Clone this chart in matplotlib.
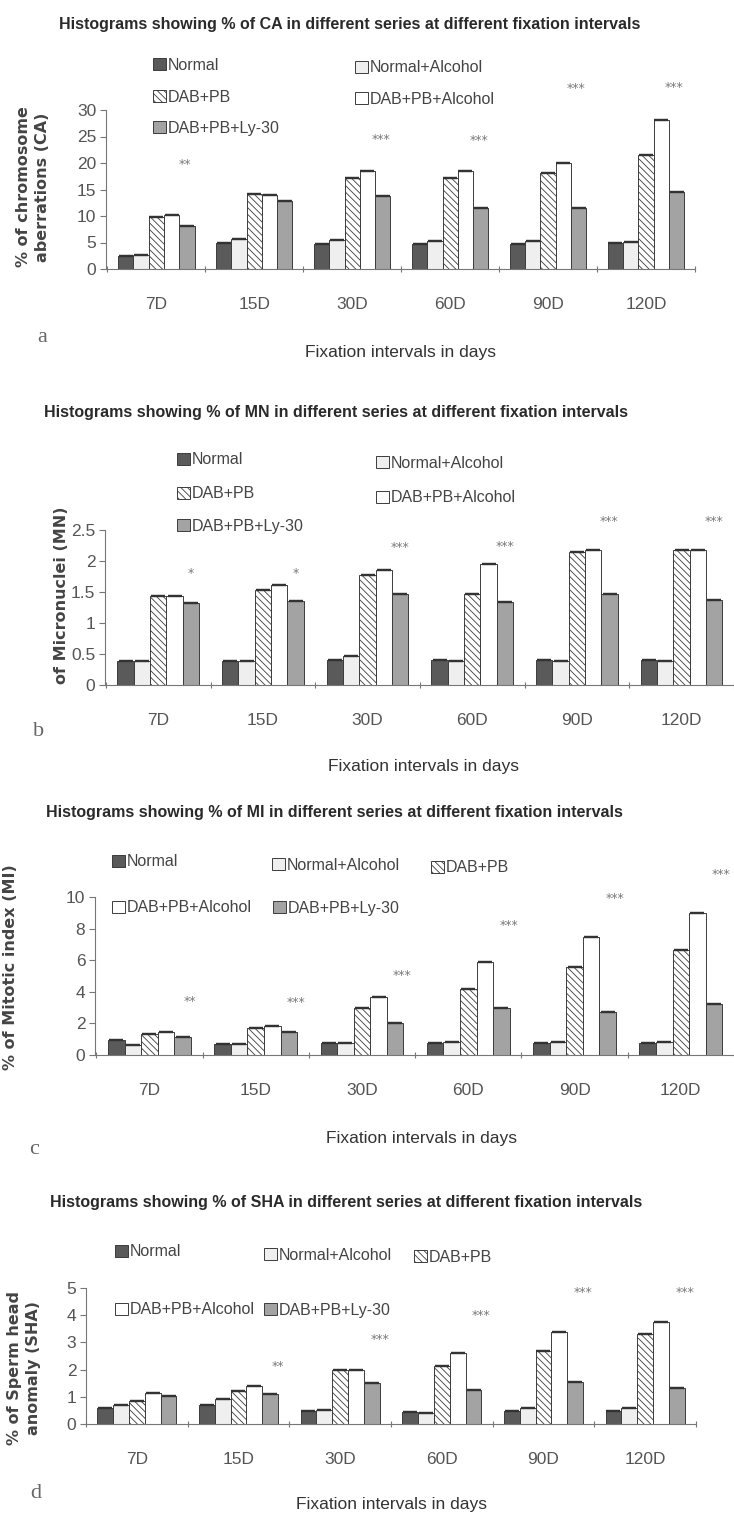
import matplotlib
matplotlib.use('Agg')
import matplotlib.pyplot as plt
import numpy as np
from matplotlib.ticker import FuncFormatter

W, H, DPI = 734, 1519, 100

# ---------------- data ----------------
categories = ['7D', '15D', '30D', '60D', '90D', '120D']
series = ['Normal', 'Normal+Alcohol', 'DAB+PB', 'DAB+PB+Alcohol', 'DAB+PB+Ly-30']

# (a) % chromosome aberrations
ca_normal      = [2.5, 4.9, 4.7, 4.7, 4.65, 4.9]
ca_normal_alc  = [2.7, 5.6, 5.4, 5.35, 5.2, 5.1]
ca_dab_pb      = [9.75, 14.1, 17.2, 17.1, 18.2, 21.5]
ca_dab_pb_alc  = [10.2, 13.9, 18.5, 18.5, 20.0, 28.2]
ca_dab_pb_ly   = [8.1, 12.8, 13.7, 11.6, 11.5, 14.5]
ca_sig         = ['**', '', '***', '***', '***', '***']
ca_sig_y       = [19.7, 0, 24.5, 24.3, 34.0, 34.2]

# (b) % micronuclei
mn_normal      = [0.38, 0.39, 0.41, 0.41, 0.41, 0.40]
mn_normal_alc  = [0.38, 0.38, 0.46, 0.38, 0.39, 0.39]
mn_dab_pb      = [1.43, 1.53, 1.77, 1.47, 2.15, 2.18]
mn_dab_pb_alc  = [1.43, 1.61, 1.85, 1.95, 2.17, 2.18]
mn_dab_pb_ly   = [1.32, 1.36, 1.47, 1.34, 1.46, 1.37]
mn_sig         = ['*', '*', '***', '***', '***', '***']
mn_sig_y       = [1.80, 1.80, 2.22, 2.23, 2.63, 2.63]

# (c) % mitotic index
mi_normal      = [0.97, 0.70, 0.75, 0.75, 0.75, 0.75]
mi_normal_alc  = [0.64, 0.68, 0.75, 0.80, 0.80, 0.80]
mi_dab_pb      = [1.31, 1.73, 3.0, 4.2, 5.6, 6.65]
mi_dab_pb_alc  = [1.45, 1.84, 3.7, 5.9, 7.45, 9.0]
mi_dab_pb_ly   = [1.15, 1.45, 2.0, 2.95, 2.75, 3.25]
mi_sig         = ['**', '***', '***', '***', '***', '***']
mi_sig_y       = [3.4, 3.35, 5.0, 8.2, 9.9, 11.4]

# (d) % sperm head anomaly
sha_normal     = [0.59, 0.70, 0.46, 0.45, 0.49, 0.49]
sha_normal_alc = [0.69, 0.91, 0.51, 0.39, 0.58, 0.58]
sha_dab_pb     = [0.84, 1.21, 1.98, 2.12, 2.70, 3.30]
sha_dab_pb_alc = [1.14, 1.40, 1.98, 2.61, 3.37, 3.76]
sha_dab_pb_ly  = [1.03, 1.09, 1.52, 1.25, 1.54, 1.33]
sha_sig        = ['', '**', '***', '***', '***', '***']
sha_sig_y      = [0, 2.12, 3.1, 4.0, 4.85, 4.85]

# ---------------- style ----------------
plt.rcParams['font.family'] = ['Liberation Sans', 'DejaVu Sans']
plt.rcParams['hatch.linewidth'] = 0.6

bar_styles = [
    dict(color='#5a5a5a', hatch=None),
    dict(color='#efefef', hatch=None),
    dict(color='#ffffff', hatch='\\' * 5),
    dict(color='#ffffff', hatch=None),
    dict(color='#a3a3a3', hatch=None),
]
EDGE = '#3c3c3c'

FS_TITLE = 11.5
FS_LEG = 11.5
FS_TICK = 12.5
FS_XLAB = 12.5
FS_YLAB = 11.5


def fx(x):
    return x / W


def fy(y):
    return 1 - y / H


panels = [
    dict(vals=[ca_normal, ca_normal_alc, ca_dab_pb, ca_dab_pb_alc, ca_dab_pb_ly],
         sig=ca_sig, sig_y=ca_sig_y, sig_off=0.29,
         left=106, right=695, y0=269, ytop=110, ymax=30, yticks=[0, 5, 10, 15, 20, 25, 30],
         c0=156.5, dc=98.3,
         title='Histograms showing % of CA in different series at different fixation intervals',
         title_xy=(350, 25),
         legend=[(153, 65), (355, 68), (153, 97), (355, 99), (153, 128)],
         ylabel='% of chromosome\naberrations (CA)', ylabel_xy=(33, 187),
         xlabel_xy=(400, 352), letter='a', letter_xy=(42, 337)),
    dict(vals=[mn_normal, mn_normal_alc, mn_dab_pb, mn_dab_pb_alc, mn_dab_pb_ly],
         sig=mn_sig, sig_y=mn_sig_y, sig_off=0.31,
         left=105, right=734, y0=685, ytop=530, ymax=2.5, yticks=[0, 0.5, 1, 1.5, 2, 2.5],
         c0=159, dc=106.3,
         title='Histograms showing % of MN in different series at different fixation intervals',
         title_xy=(336, 412),
         legend=[(177, 460), (376, 463), (177, 494), (376, 498), (177, 526)],
         ylabel='of Micronuclei (MN)', ylabel_xy=(62, 595),
         xlabel_xy=(424, 767), letter='b', letter_xy=(39, 732)),
    dict(vals=[mi_normal, mi_normal_alc, mi_dab_pb, mi_dab_pb_alc, mi_dab_pb_ly],
         sig=mi_sig, sig_y=mi_sig_y, sig_off=0.38,
         left=95, right=734, y0=1055, ytop=897, ymax=10, yticks=[0, 2, 4, 6, 8, 10],
         c0=149.7, dc=106.8,
         title='Histograms showing % of MI in different series at different fixation intervals',
         title_xy=(334, 812),
         legend=[(112, 862), (272, 865), (431, 868), (112, 908), (273, 908)],
         ylabel='% of Mitotic index (MI)', ylabel_xy=(11, 967),
         xlabel_xy=(421, 1138), letter='c', letter_xy=(34, 1150)),
    dict(vals=[sha_normal, sha_normal_alc, sha_dab_pb, sha_dab_pb_alc, sha_dab_pb_ly],
         sig=sha_sig, sig_y=sha_sig_y, sig_off=0.39,
         left=86, right=696, y0=1424, ytop=1288, ymax=5, yticks=[0, 1, 2, 3, 4, 5],
         c0=136.5, dc=102.1,
         title='Histograms showing % of SHA in different series at different fixation intervals',
         title_xy=(346, 1203),
         legend=[(115, 1252), (264, 1255), (414, 1257), (115, 1310), (264, 1310)],
         ylabel='% of Sperm head\nanomaly (SHA)', ylabel_xy=(24, 1368),
         xlabel_xy=(391, 1505), letter='d', letter_xy=(36, 1494)),
]

fig = plt.figure(figsize=(W / DPI, H / DPI), dpi=DPI)
fig.patch.set_facecolor('white')

BW = 0.156
x = np.arange(len(categories))

for p in panels:
    rect = [fx(p['left']), fy(p['y0']), (p['right'] - p['left']) / W, (p['y0'] - p['ytop']) / H]
    ax = fig.add_axes(rect)
    ax.set_facecolor('none')
    ax.set_xlim((p['left'] - p['c0']) / p['dc'], (p['right'] - p['c0']) / p['dc'])
    ax.set_ylim(0, p['ymax'])

    handles = []
    for i, (vals, st) in enumerate(zip(p['vals'], bar_styles)):
        xs = x + (i - 2) * BW
        bc = ax.bar(xs, vals, BW, color=st['color'], edgecolor=EDGE, linewidth=0.7,
                    hatch=st['hatch'], zorder=2)
        ax.errorbar(xs, vals, yerr=0, fmt='none', ecolor='#333333', capsize=5.2,
                    capthick=1.6, elinewidth=0, zorder=3)
        handles.append(bc)

    for xi, s, sy in zip(x, p['sig'], p['sig_y']):
        if s:
            ax.text(xi + p['sig_off'], sy, s, ha='center', va='center', fontsize=9,
                    color='#7a7a7a', family='DejaVu Sans', clip_on=False)

    for sp in ['top', 'right']:
        ax.spines[sp].set_visible(False)
    for sp in ['left', 'bottom']:
        ax.spines[sp].set_color('#777777')
        ax.spines[sp].set_linewidth(0.8)

    ax.set_yticks(p['yticks'])
    ax.yaxis.set_major_formatter(FuncFormatter(lambda v, pos: '%g' % v))
    ax.tick_params(axis='y', length=4, width=0.8, color='#777777', labelsize=FS_TICK,
                   labelcolor='#555555', pad=3)
    ax.set_xticks(x)
    ax.set_xticklabels(categories)
    ax.tick_params(axis='x', which='major', length=0, pad=20, labelsize=FS_TICK,
                   labelcolor='#555555')
    ax.set_xticks(np.arange(-0.5, len(categories)), minor=True)
    ax.tick_params(axis='x', which='minor', length=5, width=0.8, color='#777777', direction='inout')

    ax.set_xlabel('Fixation intervals in days', fontsize=FS_XLAB, color='#333333', va='center')
    ax.xaxis.set_label_coords(fx(p['xlabel_xy'][0]), fy(p['xlabel_xy'][1]), transform=fig.transFigure)
    ax.set_ylabel(p['ylabel'], fontsize=FS_YLAB, fontweight='bold', family='DejaVu Sans',
                  color='#444444', va='center', ha='center', linespacing=1.3)
    ax.yaxis.set_label_coords(fx(p['ylabel_xy'][0]), fy(p['ylabel_xy'][1]), transform=fig.transFigure)

    fig.text(fx(p['title_xy'][0]), fy(p['title_xy'][1]), p['title'], ha='center', va='center',
             fontsize=FS_TITLE, fontweight='bold', color='#2a2a2a')
    fig.text(fx(p['letter_xy'][0]), fy(p['letter_xy'][1]), p['letter'], ha='center', va='center',
             fontsize=16, family='Liberation Serif', color='#666666')

    for h, lab, (lx, ly) in zip(handles, series, p['legend']):
        fig.legend([h], [lab], loc='center left', bbox_to_anchor=(fx(lx), fy(ly)),
                   frameon=False, fontsize=FS_LEG, labelcolor='#444444', handlelength=0.8,
                   handleheight=0.8, handletextpad=0.15, borderpad=0, borderaxespad=0)

fig.savefig('out.png', dpi=DPI, facecolor='white')
